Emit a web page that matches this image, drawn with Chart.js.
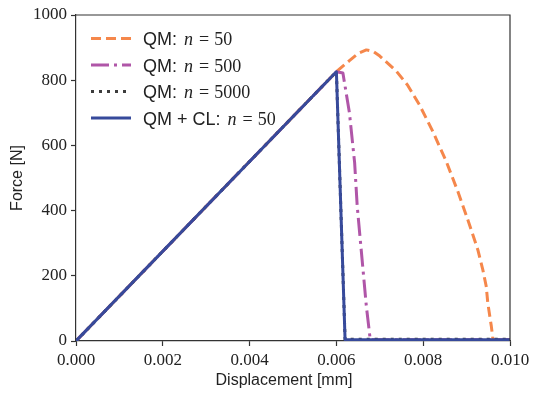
<!DOCTYPE html>
<html><head><meta charset="utf-8">
<script src="https://cdn.jsdelivr.net/npm/chart.js@4/dist/chart.umd.min.js"></script>
<style>html,body{margin:0;padding:0;background:#fff}#wrap{width:540px;height:399px}</style>
</head><body><div id="wrap"><canvas id="c" width="540" height="399"></canvas></div>
<script>
// Data
const xTicks = [0, 0.002, 0.004, 0.006, 0.008, 0.010];
const yTicks = [0, 200, 400, 600, 800, 1000];

const qm50X = [0, 0.006, 0.0063, 0.0065, 0.00669, 0.00685, 0.0070, 0.00738, 0.007645, 0.007915, 0.008221, 0.00853, 0.008797, 0.009028, 0.009258, 0.009373, 0.009452, 0.009488, 0.00957, 0.00960, 0.00961, 0.010];
const qm50Y = [0, 826, 860, 882, 893, 888, 874, 828, 784, 724, 643, 551, 459, 372, 280, 219, 168, 117, 45, 13, 4, 4];

const qm500X = [0, 0.006, 0.00615, 0.0063, 0.00642, 0.00648, 0.00669, 0.00678, 0.010];
const qm500Y = [0, 826, 822, 700, 547, 413, 107, 4, 4];

const qm5000X = [0, 0.006, 0.0062, 0.010];
const qm5000Y = [0, 826, 5, 5];

const qmclX = [0, 0.006, 0.0062, 0.010];
const qmclY = [0, 826, 4, 4];

const labels = ['QM:', 'QM:', 'QM:', 'QM + CL:'];
const nVals = ['50', '500', '5000', '50'];
const xTitle = 'Displacement [mm]';
const yTitle = 'Force [N]';

const colors = {
  orange: 'rgb(245,135,75)',
  purple: 'rgb(176,86,168)',
  dark: 'rgb(60,60,60)',
  blue: 'rgb(55,74,155)'
};

function pts(xs, ys){ return xs.map((x,i)=>({x:x, y:ys[i]})); }

const datasets = [
  {data: pts(qmclX, qmclY), borderColor: colors.blue, order: 0},
  {data: pts(qm5000X, qm5000Y), borderColor: colors.dark, borderDash: [3,5], order: 1},
  {data: pts(qm500X, qm500Y), borderColor: colors.purple, borderDash: [18,5,3,5], order: 2},
  {data: pts(qm50X, qm50Y), borderColor: colors.orange, borderDash: [10,5], order: 3}
];
datasets.forEach(d=>{ d.pointRadius = 0; d.fill = false; d.tension = 0; d.borderWidth = 3; d.borderCapStyle='butt'; d.borderJoinStyle='round'; });

const legendOrder = [
  {c: colors.orange, dash: [10,5], lab: labels[0], n: nVals[0]},
  {c: colors.purple, dash: [18,5,3,5], lab: labels[1], n: nVals[1]},
  {c: colors.dark, dash: [3,5], lab: labels[2], n: nVals[2]},
  {c: colors.blue, dash: [], lab: labels[3], n: nVals[3]}
];

const framePlugin = {
  id: 'frame',
  afterDatasetsDraw(chart){
    const {ctx, chartArea: a} = chart;
    ctx.save();
    ctx.strokeStyle = '#333';
    ctx.lineWidth = 1.2;
    ctx.beginPath();
    ctx.moveTo(a.left, a.top); ctx.lineTo(a.right, a.top); ctx.lineTo(a.right, a.bottom);
    ctx.stroke();
    // legend
    const rows = [38.5, 65, 91.5, 118];
    legendOrder.forEach((it, i)=>{
      const y = rows[i];
      ctx.strokeStyle = it.c; ctx.lineWidth = 3; ctx.setLineDash(it.dash);
      ctx.beginPath(); ctx.moveTo(91, y); ctx.lineTo(131, y); ctx.stroke();
      ctx.setLineDash([]);
      ctx.fillStyle = '#222'; ctx.textBaseline = 'middle'; ctx.textAlign = 'left';
      let x = 143;
      const ty = y + 2;
      ctx.font = '18px "Liberation Sans"';
      ctx.fillText(it.lab, x, ty); x += ctx.measureText(it.lab).width + 7;
      ctx.font = 'italic 18px "Liberation Serif"';
      ctx.fillText('n', x, ty); x += ctx.measureText('n').width + 6;
      ctx.font = '18px "Liberation Serif"';
      ctx.fillText('=', x, ty); x += ctx.measureText('=').width + 5;
      ctx.fillText(it.n, x, ty);
    });
    // axis titles
    ctx.fillStyle = '#222';
    ctx.font = '16px "Liberation Sans"';
    ctx.textAlign = 'center'; ctx.textBaseline = 'middle';
    ctx.fillText(xTitle, 284, 381);
    ctx.translate(18, 178); ctx.rotate(-Math.PI/2);
    ctx.fillText(yTitle, 0, 0);
    ctx.restore();
  }
};

new Chart(document.getElementById('c'), {
  type: 'line',
  data: { datasets },
  options: {
    responsive: false,
    animation: false,
    devicePixelRatio: 1,
    layout: { padding: {left: 0, right: 30, top: 15, bottom: 0} },
    plugins: { legend: {display: false}, tooltip: {enabled: false} },
    scales: {
      x: {
        type: 'linear', min: 0, max: 0.010,
        afterFit(s){ s.height = 58; },
        afterBuildTicks(s){ s.ticks = xTicks.map(v=>({value: v})); },
        ticks: { callback: v => Number(v).toFixed(3), color: '#222', font: {family: 'Liberation Serif', size: 17}, padding: 4, maxRotation: 0 },
        grid: { drawOnChartArea: false, tickLength: 5, color: '#333', tickWidth: 1.2 },
        border: { color: '#333', width: 1.2 }
      },
      y: {
        min: 0, max: 1000,
        afterFit(s){ s.width = 76; },
        afterBuildTicks(s){ s.ticks = yTicks.map(v=>({value: v})); },
        ticks: { callback: v => String(v), color: '#222', font: {family: 'Liberation Serif', size: 17}, padding: 4 },
        grid: { drawOnChartArea: false, tickLength: 5, color: '#333', tickWidth: 1.2 },
        border: { color: '#333', width: 1.2 }
      }
    }
  },
  plugins: [framePlugin]
});
</script></body></html>
